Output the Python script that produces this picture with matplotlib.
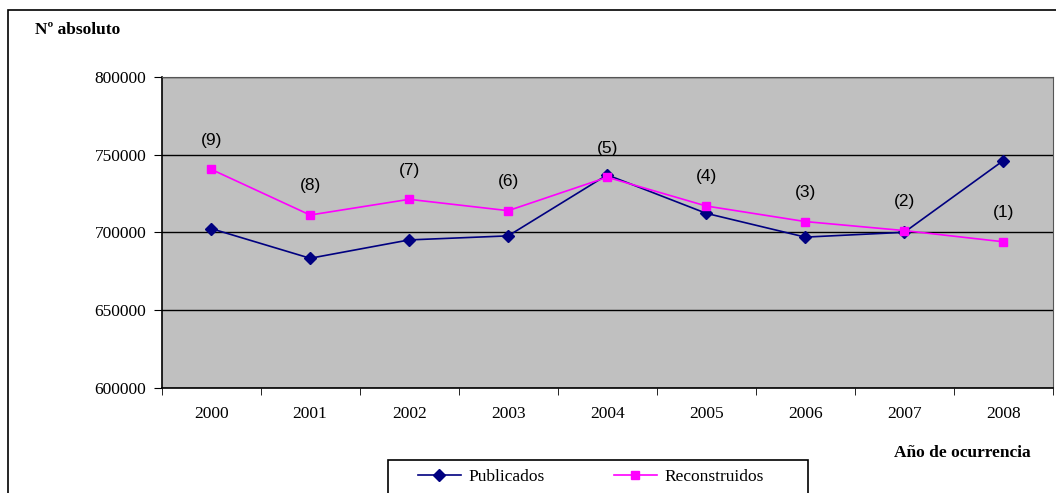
import matplotlib.pyplot as plt
from matplotlib.patches import Rectangle
import numpy as np

years = ['2000', '2001', '2002', '2003', '2004', '2005', '2006', '2007', '2008']
publicados = [702500, 683400, 695200, 697800, 737000, 712300, 697000, 700100, 746200]
reconstruidos = [740600, 711200, 721300, 714000, 735500, 717000, 707000, 701200, 694000]
orden = ['(9)', '(8)', '(7)', '(6)', '(5)', '(4)', '(3)', '(2)', '(1)']

plt.rcParams['font.family'] = ['Liberation Serif', 'DejaVu Serif']

W, H = 1056, 493
fig = plt.figure(figsize=(W / 100, H / 100), dpi=100)

# outer chart frame (runs off the right and bottom edge like the original)
fig.patches.append(Rectangle((8 / W, -0.01), 1.02, 1 - 10 / H + 0.01,
                             transform=fig.transFigure, fill=False,
                             edgecolor='black', linewidth=1.2))

ax = fig.add_axes([0.153, 0.213, 0.844, 0.631])
ax.set_facecolor('#C0C0C0')
x = np.arange(len(years))

ax.plot(x, publicados, color='#000080', marker='D', markersize=6.5, linewidth=1.2,
        label='Publicados', zorder=3)
ax.plot(x, reconstruidos, color='#FF00FF', marker='s', markersize=5.8, linewidth=1.2,
        label='Reconstruidos', zorder=3)

for xi, yi, t in zip(x, reconstruidos, orden):
    ax.annotate(t, (xi, yi), xytext=(0, 21), textcoords='offset points',
                ha='center', va='center', fontsize=12.5, family='Liberation Sans')

ax.set_xlim(-0.5, len(years) - 0.5)
ax.set_ylim(600000, 800000)
ax.set_yticks([600000, 650000, 700000, 750000, 800000])
ax.set_yticklabels(['600000', '650000', '700000', '750000', '800000'], fontsize=12.5)
ax.yaxis.grid(True, color='black', linewidth=1)
ax.set_axisbelow(True)

ax.set_xticks(x)
ax.set_xticklabels(years, fontsize=12.5)
ax.set_xticks(np.arange(-0.5, len(years)), minor=True)
ax.tick_params(axis='x', which='major', length=0, pad=13)
ax.tick_params(axis='x', which='minor', length=5, direction='out')
ax.tick_params(axis='y', length=6, direction='out', pad=5)

for s in ['left', 'bottom']:
    ax.spines[s].set_color('black')
    ax.spines[s].set_linewidth(1.2)
ax.spines['top'].set_color('#555555')
ax.spines['right'].set_color('#555555')

fig.text(35 / W, 1 - 30 / H, 'Nº absoluto', fontsize=12.5, fontweight='bold',
         ha='left', va='center')
fig.text(1031 / W, 1 - 453 / H, 'Año de ocurrencia', fontsize=12.5,
         fontweight='bold', ha='right', va='center')

# legend box drawn separately so it matches the original's wide frame
fig.patches.append(Rectangle((388 / W, -0.01), (808 - 388) / W, (493 - 460) / H + 0.01,
                             transform=fig.transFigure, fill=False,
                             edgecolor='black', linewidth=1.2))
leg = fig.legend(loc='center left', bbox_to_anchor=(409 / W, 1 - 477 / H), ncol=2,
                 fontsize=12.5, frameon=False, borderpad=0, handlelength=2.5,
                 handletextpad=0.4, columnspacing=4.0)

plt.savefig('out.png', dpi=100)
